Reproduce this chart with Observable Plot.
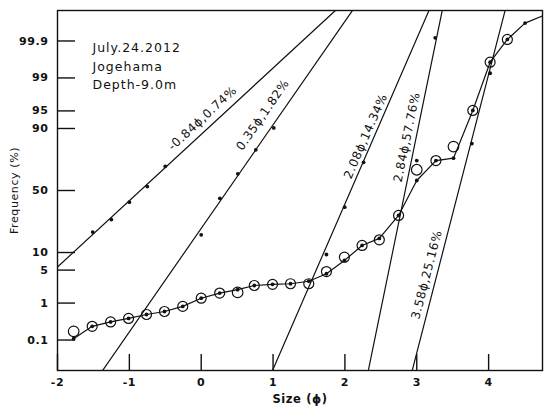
<!DOCTYPE html>
<html><head><meta charset="utf-8">
<script src="https://cdn.jsdelivr.net/npm/d3@7"></script>
<script src="https://cdn.jsdelivr.net/npm/@observablehq/plot@0.6"></script>
<style>
body{margin:0;background:#fff;}
#chart svg{display:block;font-family:"DejaVu Sans",sans-serif;}
#chart svg text{letter-spacing:0.6px;}
</style></head><body><div id="chart"></div>
<script>
// ---- tick values ----
const yTickPct = [0.1, 1, 5, 10, 50, 90, 95, 99, 99.9];
const yTickLabels = ["0.1", "1", "5", "10", "50", "90", "95", "99", "99.9"];
const xTicks = [-2, -1, 0, 1, 2, 3, 4];
const xTickLabels = ["-2", "-1", "0", "1", "2", "3", "4"];

// ---- main cumulative curve (vertices; the last one is the end of the curve, no marker) ----
const curvePhi = [-1.775, -1.517, -1.261, -1.011, -0.761, -0.511, -0.257, 0.0, 0.257, 0.507, 0.739, 0.993, 1.243, 1.497, 1.743, 1.993, 2.239, 2.479, 2.747, 3.0, 3.267, 3.511, 3.78, 4.021, 4.261, 4.507, 4.761];
const curvePct = [0.11, 0.25, 0.33, 0.41, 0.52, 0.62, 0.83, 1.30, 1.70, 2.02, 2.48, 2.62, 2.70, 3.04, 4.27, 7.4, 12.8, 16.1, 30.3, 58.2, 73.2, 74.8, 95.1, 99.60, 99.91, 99.973, 99.985];

// circled points
const circPhi = [-1.517, -1.261, -1.011, -0.761, -0.511, -0.257, 0.0, 0.257, 0.739, 0.993, 1.243, 1.497, 1.743, 1.993, 2.239, 2.479, 2.747, 3.267, 3.78, 4.021, 4.261];
const circPct = [0.25, 0.33, 0.41, 0.52, 0.62, 0.83, 1.30, 1.70, 2.48, 2.62, 2.70, 2.70, 4.7, 8.4, 12.8, 15.4, 30.3, 73.2, 95.1, 99.60, 99.91];

// open circles
const openPhi = [-1.775, 0.507, 3.0, 3.511];
const openPct = [0.18, 1.76, 66.6, 81.8];

// ---- fitted sub-population lines ----
const fitLabels = ["-0.84ϕ,0.74%", "0.35ϕ,1.82%", "2.08ϕ,14.34%", "2.84ϕ,57.76%", "3.58ϕ,25.16%"];
const fitPhi1 = [-2.0, -1.372, 0.993, 2.326, 2.937];
const fitPct1 = [5.7, 0.01, 0.01, 0.01, 0.01];
const fitPhi2 = [1.868, 2.104, 3.17, 3.354, 4.229];
const fitPct2 = [99.99, 99.99, 99.99, 99.99, 99.99];
const fitLabelPhi = [0.018, 0.857, 2.289, 2.864, 3.139];
const fitLabelPct = [93.2, 94.1, 86.9, 86.5, 4.08];

// dots belonging to the fitted lines
const fitDotPhi = [-1.51, -1.25, -1.0, -0.75, -0.50, 0.0, 0.26, 0.51, 0.76, 1.01, 1.743, 1.997, 2.26, 3.0, 3.257, 3.767, 4.021];
const fitDotPct = [19.5, 27.4, 40.5, 53.2, 69.1, 18, 43.6, 63.5, 80, 90.2, 9.3, 36.5, 72, 73.2, 99.92, 83.4, 99.23];

const annotation = "July.24.2012\nJogehama\nDepth-9.0m";

// ---- probability (probit) transform ----
function probit(p) {
  const a=[-3.969683028665376e+01,2.209460984245205e+02,-2.759285104469687e+02,1.383577518672690e+02,-3.066479806614716e+01,2.506628277459239e+00];
  const b=[-5.447609879822406e+01,1.615858368580409e+02,-1.556989798598866e+02,6.680131188771972e+01,-1.328068155288572e+01];
  const c=[-7.784894002430293e-03,-3.223964580411365e-01,-2.400758277161838e+00,-2.549732539343734e+00,4.374664141464968e+00,2.938163982698783e+00];
  const d=[7.784695709041462e-03,3.224671290700398e-01,2.445134137142996e+00,3.754408661907416e+00];
  const pl = 0.02425, ph = 1 - pl;
  let q, r;
  if (p < pl) { q = Math.sqrt(-2*Math.log(p)); return (((((c[0]*q+c[1])*q+c[2])*q+c[3])*q+c[4])*q+c[5])/((((d[0]*q+d[1])*q+d[2])*q+d[3])*q+1); }
  if (p > ph) { q = Math.sqrt(-2*Math.log(1-p)); return -(((((c[0]*q+c[1])*q+c[2])*q+c[3])*q+c[4])*q+c[5])/((((d[0]*q+d[1])*q+d[2])*q+d[3])*q+1); }
  q = p - 0.5; r = q*q;
  return (((((a[0]*r+a[1])*r+a[2])*r+a[3])*r+a[4])*r+a[5])*q/(((((b[0]*r+b[1])*r+b[2])*r+b[3])*r+b[4])*r+1);
}
const Z = pct => probit(pct / 100);

// ---- tables ----
const yTickData = yTickPct.map((p, i) => ({z: Z(p), label: yTickLabels[i]}));
const xTickData = xTicks.map((x, i) => ({x, label: xTickLabels[i]}));
const curve = curvePhi.map((x, i) => ({x, p: curvePct[i]}));
const circ = circPhi.map((x, i) => ({x, p: circPct[i]}));
const open = openPhi.map((x, i) => ({x, p: openPct[i]}));
const fitLines = fitLabels.flatMap((name, i) => [
  {name, x: fitPhi1[i], p: fitPct1[i]},
  {name, x: fitPhi2[i], p: fitPct2[i]}
]);
const labelAngles = [-42.7, -55.2, -66.4, -78.4, -75.5];
const fitLabelData = fitLabels.map((t, i) => ({t, x: fitLabelPhi[i], p: fitLabelPct[i], a: labelAngles[i]}));
const fitDots = fitDotPhi.map((x, i) => ({x, p: fitDotPct[i]}));

const ink = "#111";
const W = 544, H = 412, mL = 57, mR = 2, mT = 10, mB = 42;

const chart = Plot.plot({
  width: W, height: H,
  marginLeft: mL, marginRight: mR, marginTop: mT, marginBottom: mB,
  x: {domain: [-2, 4.75], axis: null},
  y: {domain: [-3.72, 3.72], axis: null},
  marks: [
    Plot.frame({stroke: ink, strokeWidth: 1.4}),
    // inward ticks
    Plot.tickY(yTickData, {y: "z", stroke: ink, strokeWidth: 1.4, insetRight: (W - mL - mR) - 18}),
    Plot.tickX(xTickData, {x: "x", stroke: ink, strokeWidth: 1.4, insetTop: (H - mT - mB) - 16}),
    // tick labels
    Plot.text(yTickData, {y: "z", text: "label", frameAnchor: "left", textAnchor: "end", dx: -9, fontSize: 11, fontWeight: "bold", fill: ink}),
    Plot.text(xTickData, {x: "x", text: "label", frameAnchor: "bottom", dy: 15, fontSize: 11, fontWeight: "bold", fill: ink}),
    // axis titles
    Plot.text(["Frequency (%)"], {frameAnchor: "left", textAnchor: "middle", rotate: -90, dx: -43, fontSize: 11, fill: ink}),
    Plot.text(["Size (ϕ)"], {frameAnchor: "bottom", textAnchor: "middle", dy: 32, fontSize: 11.5, fontWeight: "bold", fill: ink}),
    // annotation
    Plot.text([annotation], {frameAnchor: "top-left", dx: 35, dy: 28, textAnchor: "start", lineAnchor: "top", lineHeight: 1.5, fontSize: 12.5, fill: ink, style: "letter-spacing:1px"}),
    // fitted lines
    Plot.line(fitLines, {x: "x", y: d => Z(d.p), z: "name", stroke: ink, strokeWidth: 1.2, clip: true}),
    Plot.text(fitLabelData, {x: "x", y: d => Z(d.p), text: "t", rotate: "a", fontSize: 12, fill: ink}),
    Plot.dot(fitDots, {x: "x", y: d => Z(d.p), r: 1.9, fill: ink, stroke: "none"}),
    // main curve
    Plot.line(curve, {x: "x", y: d => Z(d.p), stroke: ink, strokeWidth: 1.2, clip: true}),
    Plot.dot(curve.slice(0, -1), {x: "x", y: d => Z(d.p), r: 1.9, fill: ink, stroke: "none"}),
    Plot.dot(circ, {x: "x", y: d => Z(d.p), r: 5, stroke: ink, strokeWidth: 1.2, fill: "none"}),
    Plot.dot(open, {x: "x", y: d => Z(d.p), r: 5.3, stroke: ink, strokeWidth: 1.2, fill: "none"})
  ]
});
document.getElementById("chart").appendChild(chart);
// annotation letter spacing
chart.querySelectorAll("text").forEach(t => {
  if (/July|Jogehama|Depth/.test(t.textContent)) t.style.letterSpacing = "1px";
});
</script>
</body></html>
